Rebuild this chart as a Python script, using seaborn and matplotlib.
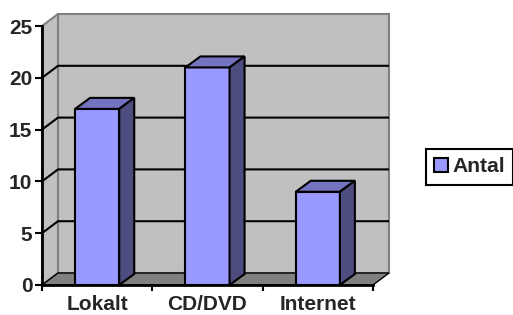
import seaborn as sns
import pandas as pd
import matplotlib.pyplot as plt
from matplotlib.patches import Polygon, Patch

kategorier = ['Lokalt', 'CD/DVD', 'Internet']
antal = [17, 21, 9]
yticks = [0, 5, 10, 15, 20, 25]
serie = 'Antal'

front = '#9999FF'
topp = '#7373BF'
sida = '#4D4D80'
vagg = '#C0C0C0'
golv = '#808080'

sns.set_style('white')
plt.rcParams['font.family'] = ['Liberation Sans', 'DejaVu Sans']
plt.rcParams['font.weight'] = 'bold'

W, H = 513, 315
fig = plt.figure(figsize=(W / 100, H / 100), dpi=100)
ax = fig.add_axes([42 / W, (H - 285) / H, 331 / W, 259 / H])
ax.patch.set_alpha(0)

ymax = 25
# djup for vaggarna och staplarna (i dataenheter)
dx, dy = 16 / 331 * 3, 12 / 259 * ymax
bdx, bdy = 15 / 331 * 3, 11 / 259 * ymax

# bakvagg, vanstervagg och golv
ax.add_patch(Polygon([(-0.5 + dx, dy), (2.5 + dx, dy), (2.5 + dx, ymax + dy), (-0.5 + dx, ymax + dy)],
                     closed=True, facecolor=vagg, edgecolor=golv, lw=1.5, zorder=0.5, clip_on=False))
ax.add_patch(Polygon([(-0.5, 0), (-0.5 + dx, dy), (-0.5 + dx, ymax + dy), (-0.5, ymax)],
                     closed=True, facecolor=vagg, edgecolor=golv, lw=1.5, zorder=0.5, clip_on=False))
ax.add_patch(Polygon([(-0.5, 0), (2.5, 0), (2.5 + dx, dy), (-0.5 + dx, dy)],
                     closed=True, facecolor=golv, edgecolor='black', lw=1, zorder=0.6, clip_on=False))

for v in yticks[1:-1]:
    ax.plot([-0.5, -0.5 + dx, 2.5 + dx], [v, v + dy, v + dy], color='black', lw=1.5,
            zorder=0.8, clip_on=False, solid_capstyle='butt')

df = pd.DataFrame({'kategori': kategorier, 'antal': antal})
sns.barplot(data=df, x='kategori', y='antal', color=front, width=0.4, saturation=1,
            edgecolor='black', linewidth=1.5, ax=ax, zorder=2)

for p in ax.patches:
    if not hasattr(p, 'get_width'):
        continue
    x0, w, h = p.get_x(), p.get_width(), p.get_height()
    x1 = x0 + w
    ax.add_patch(Polygon([(x0, h), (x1, h), (x1 + bdx, h + bdy), (x0 + bdx, h + bdy)],
                         closed=True, facecolor=topp, edgecolor='black', lw=1.5, zorder=2,
                         clip_on=False))
    ax.add_patch(Polygon([(x1, 0), (x1 + bdx, bdy), (x1 + bdx, h + bdy), (x1, h)],
                         closed=True, facecolor=sida, edgecolor='black', lw=1.5, zorder=2,
                         clip_on=False))

ax.set_xlim(-0.5, 2.5)
ax.set_ylim(0, ymax)
ax.set_xlabel('')
ax.set_ylabel('')
for s in ['top', 'right']:
    ax.spines[s].set_visible(False)
for s in ['left', 'bottom']:
    ax.spines[s].set_color('black')
    ax.spines[s].set_linewidth(2)
    ax.spines[s].set_zorder(3)

fs = 15
ax.set_yticks(yticks)
ax.set_yticklabels([str(t) for t in yticks], fontsize=fs, fontweight='bold')
ax.tick_params(axis='y', direction='out', length=5, width=1.5, color='black', pad=2, left=True)
ax.set_xticks([-0.5, 0.5, 1.5, 2.5])
ax.set_xticklabels([])
ax.tick_params(axis='x', which='major', direction='out', length=4, width=1.5, color='black', bottom=True)
ax.set_xticks([0, 1, 2], minor=True)
ax.set_xticklabels(kategorier, minor=True, fontsize=fs, fontweight='bold')
ax.tick_params(axis='x', which='minor', length=0, pad=7)

fig.legend(handles=[Patch(facecolor=front, edgecolor='black', lw=1.5, label=serie)],
           loc='center left', bbox_to_anchor=(426 / W, (H - 167) / H), frameon=True,
           fancybox=False, edgecolor='black', framealpha=1, borderpad=0.4, borderaxespad=0,
           handlelength=0.65, handleheight=0.65, handletextpad=0.2,
           prop={'size': 15.2, 'weight': 'bold'}).get_frame().set_linewidth(1.5)

fig.savefig('out.png', dpi=100)
